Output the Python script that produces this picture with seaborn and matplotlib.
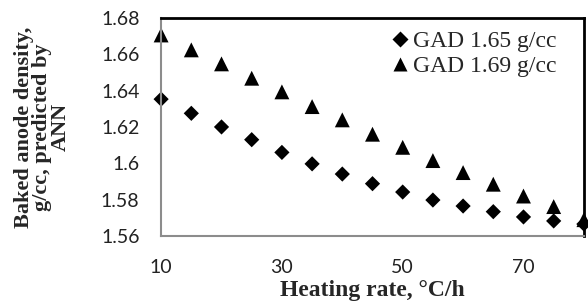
import numpy as np
import pandas as pd
import matplotlib
matplotlib.use('Agg')
import matplotlib.pyplot as plt
import seaborn as sns

# Heating rate (°C/h) and predicted baked anode density (g/cc)
heating_rate = [10, 15, 20, 25, 30, 35, 40, 45, 50, 55, 60, 65, 70, 75, 80]
gad_165 = [1.6353, 1.6275, 1.6200, 1.6130, 1.6060, 1.5997, 1.5941, 1.5888,
           1.5842, 1.5798, 1.5765, 1.5734, 1.5705, 1.5683, 1.5666]
gad_169 = [1.6706, 1.6624, 1.6547, 1.6468, 1.6393, 1.6312, 1.6239, 1.6160,
           1.6088, 1.6015, 1.5949, 1.5885, 1.5820, 1.5762, 1.5690]
series_names = ['GAD 1.65 g/cc', 'GAD 1.69 g/cc']
x_ticks = [10, 30, 50, 70]
y_ticks = [1.56, 1.58, 1.60, 1.62, 1.64, 1.66, 1.68]
y_ticklabels = ['1.56', '1.58', '1.6', '1.62', '1.64', '1.66', '1.68']

df = pd.concat([
    pd.DataFrame({'rate': heating_rate, 'density': gad_165, 'series': series_names[0]}),
    pd.DataFrame({'rate': heating_rate, 'density': gad_169, 'series': series_names[1]}),
])

sns.set_style('white')
plt.rcParams['font.family'] = ['Lato', 'DejaVu Sans']

fig = plt.figure(figsize=(5.88, 3.03), dpi=100)
ax = fig.add_axes([0.274, 0.221, 0.719, 0.72])

sns.scatterplot(data=df, x='rate', y='density', style='series', hue='series', size='series',
                markers={series_names[0]: 'D', series_names[1]: '^'},
                palette={series_names[0]: 'black', series_names[1]: 'black'},
                sizes={series_names[0]: 60, series_names[1]: 115},
                edgecolor='none', ax=ax, clip_on=False, legend=True)

ax.set_xlim(10, 80)
ax.set_ylim(1.56, 1.68)
ax.set_xticks(x_ticks)
ax.set_yticks(y_ticks)
ax.set_yticklabels(y_ticklabels)
ax.tick_params(axis='both', direction='out', length=6.5, width=1.2, color='#8c8c8c',
               labelsize=14, labelcolor='#222222')
ax.tick_params(axis='y', pad=9)
ax.tick_params(axis='x', pad=10)

for side in ['left', 'bottom']:
    ax.spines[side].set_color('#8c8c8c')
    ax.spines[side].set_linewidth(1.5)
for side in ['top', 'right']:
    ax.spines[side].set_color('black')
    ax.spines[side].set_linewidth(2)

serif = ['Liberation Serif', 'DejaVu Serif']
ax.set_xlabel('Heating rate, °C/h', fontsize=17, fontweight='bold', family=serif, labelpad=3)
ax.set_ylabel('Baked anode density,\ng/cc, predicted by\nANN', fontsize=16,
              fontweight='bold', family=serif, labelpad=22, linespacing=0.88)

handles, labels = ax.get_legend_handles_labels()
ax.legend(handles, labels, loc='upper right', frameon=False, handlelength=0.8,
          handletextpad=0.15, borderaxespad=0, borderpad=0, labelspacing=0.12,
          prop={'family': serif, 'size': 17}, bbox_to_anchor=(0.935, 0.94))

fig.savefig('out.png', dpi=100)
